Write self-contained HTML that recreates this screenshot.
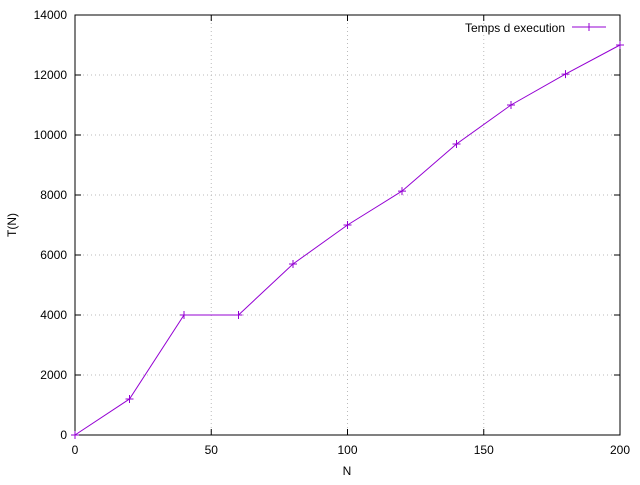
<!DOCTYPE html>
<html><head><meta charset="utf-8"><style>
body{margin:0;background:#fff}
svg text{font-family:"Liberation Sans",sans-serif;font-size:12px;fill:#000}
</style></head><body>
<svg id="chart" width="640" height="480"></svg>
<script>
const xValues=[0,20,40,60,80,100,120,140,160,180,200];
const yValues=[0,1200,4000,4000,5700,7000,8130,9700,11000,12030,13000];
const xTicks=[0,50,100,150,200];
const yTicks=[0,2000,4000,6000,8000,10000,12000,14000];
const L=75,R=620,T=15,B=435;
const sx=v=>L+(v-0)/(200-0)*(R-L);
const sy=v=>B-(v-0)/(14000-0)*(B-T);
const svg=document.getElementById('chart');
const NS='http://www.w3.org/2000/svg';
function mk(tag,attrs,parent){const e=document.createElementNS(NS,tag);for(const k in attrs)e.setAttribute(k,attrs[k]);(parent||svg).appendChild(e);return e;}
// grid
xTicks.forEach(t=>{if(t>0&&t<200){const g=mk('line',{x1:sx(t),x2:sx(t),y1:T,y2:B,stroke:'#bbb','stroke-dasharray':'1,3','stroke-width':1});

}});
yTicks.forEach(t=>{if(t>0&&t<14000){const g=mk('line',{x1:L,x2:R,y1:sy(t),y2:sy(t),stroke:'#bbb','stroke-dasharray':'1,3','stroke-width':1});

}});
// ticks and labels
xTicks.forEach(t=>{const x=sx(t);
mk('line',{x1:x,x2:x,y1:B,y2:B-6,stroke:'#000'});mk('line',{x1:x,x2:x,y1:T,y2:T+6,stroke:'#000'});
const tx=mk('text',{x:x,y:B+19,'text-anchor':'middle'});tx.textContent=t;

});
yTicks.forEach(t=>{const y=sy(t);
mk('line',{x1:L,x2:L+6,y1:y,y2:y,stroke:'#000'});mk('line',{x1:R,x2:R-6,y1:y,y2:y,stroke:'#000'});
const tx=mk('text',{x:L-8,y:y+4,'text-anchor':'end'});tx.textContent=t;

});
const frame=mk('rect',{x:L,y:T,width:R-L,height:B-T,fill:'none',stroke:'#000'});


const xt=mk('text',{x:347,y:475,'text-anchor':'middle'});xt.textContent='N';


const yt=mk('text',{x:16,y:225,'text-anchor':'middle',transform:'rotate(-90 16 225)'});yt.textContent='T(N)';


// series
const pts=xValues.map((x,i)=>sx(x)+','+sy(yValues[i])).join(' ');
const line=mk('polyline',{points:pts,fill:'none',stroke:'#9400d3','stroke-width':1});


xValues.forEach((x,i)=>{const cx=sx(x),cy=sy(yValues[i]);
const p=mk('path',{d:`M${cx-4},${cy}H${cx+4}M${cx},${cy-4}V${cy+4}`,stroke:'#9400d3','stroke-width':1});

});
// legend
const lt=mk('text',{x:565,y:32,'text-anchor':'end'});lt.textContent='Temps d execution';


const ll=mk('path',{d:'M572,27H606M589,23V31M585,27H593',stroke:'#9400d3','stroke-width':1});


</script>
</body></html>
